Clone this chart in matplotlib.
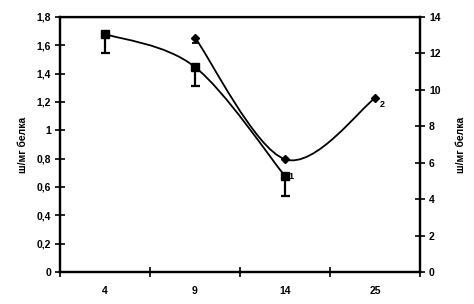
import matplotlib
matplotlib.use("Agg")
import matplotlib.pyplot as plt
import numpy as np
from matplotlib.path import Path
from matplotlib.patches import PathPatch
from matplotlib.transforms import IdentityTransform

categories = ["4", "9", "14", "25"]
s1_x = [0, 1, 2]
s1_y = [1.68, 1.447, 0.677]
s1_err = [0.135, 0.137, 0.137]
s2_x = [1, 2, 3]
s2_y = [12.87, 6.19, 9.54]
s2_err = [0.3, 0.0, 0.0]
left_ticks = [0, 0.2, 0.4, 0.6, 0.8, 1, 1.2, 1.4, 1.6, 1.8]
right_ticks = [0, 2, 4, 6, 8, 10, 12, 14]
ylabel = "ш/мг белка"

plt.rcParams['font.family'] = ['Liberation Sans', 'DejaVu Sans']
plt.rcParams['font.weight'] = 'bold'
fs = 7.5

fig = plt.figure(figsize=(4.74, 3.04), dpi=100)
ax = fig.add_axes([60/474, 32/304, 360/474, 255/304])
ax2 = ax.twinx()
ax.set_xlim(-0.5, 3.5)
ax.set_ylim(0, 1.8)
ax2.set_ylim(0, 14)

for a in (ax, ax2):
    for sp in a.spines.values():
        sp.set_linewidth(1.6)
ax.spines['top'].set_linewidth(1.0)

ax.set_xticks([-0.5, 0.5, 1.5, 2.5, 3.5])
ax.set_xticklabels([])
ax.set_xticks(range(len(categories)), minor=True)
ax.set_xticklabels(categories, minor=True, fontsize=fs, fontweight='bold')
ax.tick_params(axis='x', which='major', direction='inout', length=7, width=1.2)
ax.tick_params(axis='x', which='minor', length=0, pad=10)

ax.set_yticks(left_ticks)
ax.set_yticklabels([("%g" % t).replace(".", ",") for t in left_ticks], fontsize=fs, fontweight='bold')
ax.tick_params(axis='y', direction='inout', length=7, width=1.2, pad=3)
ax2.set_yticks(right_ticks)
ax2.set_yticklabels([str(t) for t in right_ticks], fontsize=fs, fontweight='bold')
ax2.tick_params(axis='y', direction='inout', length=7, width=1.2, pad=3)

ax.set_ylabel(ylabel, fontsize=fs, fontweight='bold', labelpad=6)
ax2.set_ylabel(ylabel, fontsize=fs, fontweight='bold', rotation=90, labelpad=11)


def smooth(a, xs, ys):
    pts = a.transData.transform(np.column_stack([xs, ys]))
    n = len(pts)
    verts = [pts[0]]
    codes = [Path.MOVETO]
    for i in range(n - 1):
        p0 = pts[i - 1] if i > 0 else pts[i]
        p1 = pts[i]
        p2 = pts[i + 1]
        p3 = pts[i + 2] if i + 2 < n else pts[i + 1]
        c1 = p1 + (p2 - p0) / 6
        c2 = p2 - (p3 - p1) / 6
        verts += [c1, c2, p2]
        codes += [Path.CURVE4] * 3
    patch = PathPatch(Path(verts, codes), facecolor='none', edgecolor='black',
                      lw=1.3, transform=IdentityTransform())
    fig.add_artist(patch)

fig.canvas.draw()
smooth(ax, s1_x, s1_y)
smooth(ax2, s2_x, s2_y)


def lower_err(a, xs, ys, errs, capw, lw):
    for x, y, e in zip(xs, ys, errs):
        if e <= 0:
            continue
        a.vlines(x, y - e, y, color='black', lw=lw)
        a.hlines(y - e, x - capw, x + capw, color='black', lw=lw)

lower_err(ax, s1_x, s1_y, s1_err, 0.05, 1.6)
lower_err(ax2, s2_x, s2_y, s2_err, 0.035, 1.3)
ax.plot(s1_x, s1_y, 's', color='black', ms=6)
ax2.plot(s2_x, s2_y, 'D', color='black', ms=4.5)

ax.text(s1_x[-1] + 0.04, s1_y[-1], "1", fontsize=6.5, fontweight='bold', va='center', ha='left')
ax2.text(s2_x[-1] + 0.05, s2_y[-1] - 0.35, "2", fontsize=6.5, fontweight='bold', va='center', ha='left')

fig.savefig("out.png", dpi=100)
